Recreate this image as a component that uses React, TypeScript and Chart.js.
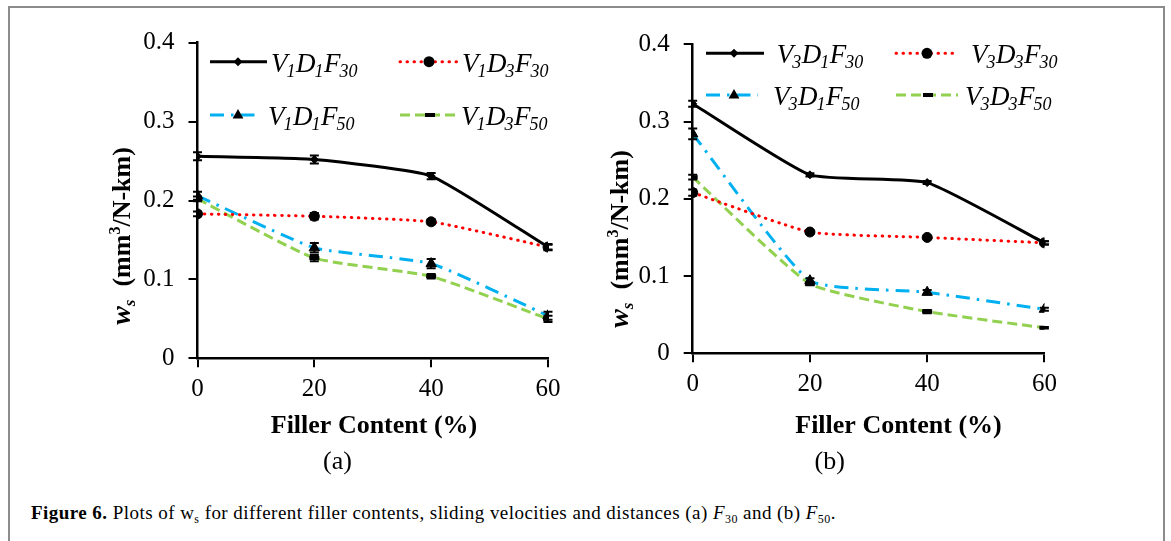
import React, { useEffect, useRef } from "react";
import { Chart, registerables } from "chart.js";

Chart.register(...registerables);
Chart.defaults.font.family = "'Liberation Serif', 'Times New Roman', serif";

// ---------- data ----------
const fillerContent = [0, 20, 40, 60];
const xTickStep = 20;
const yTickStep = 0.1;
const yMin = 0;
const yMax = 0.4;

// Panel (a) — F30 series, V1
const aV1D1F30 = [0.256, 0.252, 0.231, 0.141];
const aV1D3F30 = [0.183, 0.18, 0.173, 0.141];
const aV1D1F50 = [0.206, 0.14, 0.12, 0.054];
const aV1D3F50 = [0.202, 0.127, 0.104, 0.05];
const aErrV1D1F30 = [0.005, 0.005, 0.004, 0.003];
const aErrV1D3F30 = [0.003, 0.004, 0.003, 0.004];
const aErrV1D1F50 = [0.005, 0.006, 0.006, 0.005];
const aErrV1D3F50 = [0.003, 0.004, 0.003, 0.004];
const aLabels = [
  ["V", "1", "D", "1", "F", "30"],
  ["V", "1", "D", "3", "F", "30"],
  ["V", "1", "D", "1", "F", "50"],
  ["V", "1", "D", "3", "F", "50"],
];

// Panel (b) — V3
const bV3D1F30 = [0.323, 0.231, 0.221, 0.143];
const bV3D3F30 = [0.208, 0.157, 0.15, 0.143];
const bV3D1F50 = [0.284, 0.094, 0.079, 0.057];
const bV3D3F50 = [0.228, 0.09, 0.054, 0.033];
const bErrV3D1F30 = [0.004, 0.002, 0.002, 0.002];
const bErrV3D3F30 = [0.004, 0.002, 0.002, 0.002];
const bErrV3D1F50 = [0.007, 0.003, 0.003, 0.002];
const bErrV3D3F50 = [0.003, 0.002, 0.002, 0.001];
const bLabels = [
  ["V", "3", "D", "1", "F", "30"],
  ["V", "3", "D", "3", "F", "30"],
  ["V", "3", "D", "1", "F", "50"],
  ["V", "3", "D", "3", "F", "50"],
];

const xTitle = "Filler Content (%)";

// ---------- styles ----------
const SERIF = "'Liberation Serif', 'Times New Roman', serif";
const seriesStyles = [
  { color: "#000000", dash: [] as number[], cap: "butt", marker: "diamond" },
  { color: "#FF0000", dash: [0.5, 6.5], cap: "round", marker: "circle" },
  { color: "#00B0F0", dash: [14, 7, 2.5, 7], cap: "butt", marker: "triangle" },
  { color: "#92D050", dash: [10, 5], cap: "butt", marker: "bar" },
];
const pointStyleMap: Record<string, any> = {
  diamond: "rectRot",
  circle: "circle",
  triangle: "triangle",
  bar: "line",
};
const pointRadiusMap: Record<string, number> = { diamond: 4, circle: 5, triangle: 6, bar: 5 };
const pointBorderMap: Record<string, number> = { diamond: 1, circle: 1, triangle: 1, bar: 4 };

type LegendPos = { l0: number; l1: number; m: number; t: number; y: number };
type Panel = {
  left: number;
  width: number;
  height: number;
  area: { left: number; right: number; top: number; bottom: number };
  series: number[][];
  errors: number[][];
  labels: string[][];
  legend: LegendPos[];
  xTitlePos: [number, number];
  yTitlePos: [number, number];
  tag: string;
  tagPos: [number, number];
};

const panels: Panel[] = [
  {
    left: 0,
    width: 590,
    height: 480,
    area: { left: 197.5, right: 548, top: 42.7, bottom: 358.3 },
    series: [aV1D1F30, aV1D3F30, aV1D1F50, aV1D3F50],
    errors: [aErrV1D1F30, aErrV1D3F30, aErrV1D1F50, aErrV1D3F50],
    labels: aLabels,
    legend: [
      { l0: 210, l1: 267, m: 238, t: 271, y: 61.7 },
      { l0: 400, l1: 459, m: 429, t: 462, y: 61.7 },
      { l0: 210, l1: 260, m: 238, t: 268, y: 115 },
      { l0: 400, l1: 459, m: 430, t: 461, y: 115 },
    ],
    xTitlePos: [374, 426],
    yTitlePos: [120.5, 236],
    tag: "(a)",
    tagPos: [337.5, 462],
  },
  {
    left: 590,
    width: 581,
    height: 480,
    area: { left: 102.7, right: 454.4, top: 44.3, bottom: 353.3 },
    series: [bV3D1F30, bV3D3F30, bV3D1F50, bV3D3F50],
    errors: [bErrV3D1F30, bErrV3D3F30, bErrV3D1F50, bErrV3D3F50],
    labels: bLabels,
    legend: [
      { l0: 116, l1: 174, m: 144, t: 186.7, y: 53.3 },
      { l0: 306, l1: 366, m: 337, t: 381, y: 53.3 },
      { l0: 116, l1: 168, m: 144, t: 183, y: 95 },
      { l0: 306, l1: 368, m: 338, t: 375, y: 95 },
    ],
    xTitlePos: [308.5, 426],
    yTitlePos: [29, 239],
    tag: "(b)",
    tagPos: [239.7, 462],
  },
];

function drawMarker(ctx: CanvasRenderingContext2D, kind: string, x: number, y: number) {
  ctx.save();
  ctx.fillStyle = "#000";
  ctx.strokeStyle = "#000";
  ctx.setLineDash([]);
  ctx.beginPath();
  if (kind === "diamond") {
    const r = 4.5;
    ctx.moveTo(x, y - r);
    ctx.lineTo(x + r, y);
    ctx.lineTo(x, y + r);
    ctx.lineTo(x - r, y);
    ctx.closePath();
    ctx.fill();
  } else if (kind === "circle") {
    ctx.arc(x, y, 5.5, 0, Math.PI * 2);
    ctx.fill();
  } else if (kind === "triangle") {
    const r = 6;
    ctx.moveTo(x, y - r);
    ctx.lineTo(x + r * 0.9, y + r * 0.6);
    ctx.lineTo(x - r * 0.9, y + r * 0.6);
    ctx.closePath();
    ctx.fill();
  } else {
    ctx.fillRect(x - 5, y - 2, 10, 4);
  }
  ctx.restore();
}

function drawTokens(
  ctx: CanvasRenderingContext2D,
  tokens: string[],
  x: number,
  y: number
) {
  let cx = x;
  tokens.forEach((t, i) => {
    const isSub = i % 2 === 1;
    ctx.font = isSub ? `italic 18px ${SERIF}` : `italic 27px ${SERIF}`;
    ctx.fillText(t, cx, isSub ? y + 5 : y);
    cx += ctx.measureText(t).width + (isSub ? 0.5 : -1);
  });
}

function makeOverlayPlugin(panel: Panel) {
  return {
    id: "overlay" + panel.tag,
    afterDatasetsDraw(chart: any) {
      const ctx: CanvasRenderingContext2D = chart.ctx;
      const yScale = chart.scales.y;
      // error bars
      ctx.save();
      ctx.strokeStyle = "#000";
      ctx.lineWidth = 2;
      ctx.setLineDash([]);
      panel.series.forEach((vals, di) => {
        const meta = chart.getDatasetMeta(di);
        vals.forEach((v, i) => {
          const e = panel.errors[di][i];
          const pt = meta.data[i];
          const x = pt.x;
          const yTop = yScale.getPixelForValue(v + e);
          const yBot = yScale.getPixelForValue(v - e);
          ctx.beginPath();
          ctx.moveTo(x, yTop);
          ctx.lineTo(x, yBot);
          ctx.moveTo(x - 4.5, yTop);
          ctx.lineTo(x + 4.5, yTop);
          ctx.moveTo(x - 4.5, yBot);
          ctx.lineTo(x + 4.5, yBot);
          ctx.stroke();
        });
      });
      ctx.restore();
    },
    afterDraw(chart: any) {
      const ctx: CanvasRenderingContext2D = chart.ctx;
      ctx.save();
      ctx.fillStyle = "#000";
      ctx.textBaseline = "alphabetic";
      ctx.textAlign = "left";
      // legend
      panel.legend.forEach((lp, i) => {
        const st = seriesStyles[i];
        ctx.save();
        ctx.strokeStyle = st.color;
        ctx.lineWidth = 3;
        ctx.lineCap = st.cap as CanvasLineCap;
        ctx.setLineDash(st.dash);
        ctx.beginPath();
        ctx.moveTo(lp.l0, lp.y);
        ctx.lineTo(lp.l1, lp.y);
        ctx.stroke();
        ctx.restore();
        drawMarker(ctx, st.marker, lp.m, lp.y);
        ctx.fillStyle = "#000";
        drawTokens(ctx, panel.labels[i], lp.t, lp.y + 10);
      });
      // x title
      ctx.font = `bold 26px ${SERIF}`;
      ctx.textAlign = "center";
      ctx.textBaseline = "middle";
      ctx.fillText(xTitle, panel.xTitlePos[0], panel.xTitlePos[1]);
      // tag
      ctx.font = `26px ${SERIF}`;
      ctx.fillText(panel.tag, panel.tagPos[0], panel.tagPos[1]);
      // y title (rotated)
      ctx.save();
      ctx.translate(panel.yTitlePos[0], panel.yTitlePos[1]);
      ctx.rotate(-Math.PI / 2);
      ctx.textAlign = "left";
      ctx.textBaseline = "alphabetic";
      const parts = [
        { t: "w", f: `italic bold 28px ${SERIF}`, dy: 0 },
        { t: "s", f: `italic bold 17px ${SERIF}`, dy: 5 },
        { t: "  (mm", f: `bold 26px ${SERIF}`, dy: 0 },
        { t: "3", f: `bold 16px ${SERIF}`, dy: -10 },
        { t: "/N-km)", f: `bold 26px ${SERIF}`, dy: 0 },
      ];
      let total = 0;
      parts.forEach((p) => {
        ctx.font = p.f;
        total += ctx.measureText(p.t).width;
      });
      let cx = -total / 2;
      parts.forEach((p) => {
        ctx.font = p.f;
        ctx.fillText(p.t, cx, 9 + p.dy);
        cx += ctx.measureText(p.t).width;
      });
      ctx.restore();
      ctx.restore();
    },
  };
}

function PanelChart({ panel }: { panel: Panel }) {
  const ref = useRef<HTMLCanvasElement | null>(null);
  useEffect(() => {
    if (!ref.current) return;
    const a = panel.area;
    const datasets = panel.series.map((vals, i) => {
      const st = seriesStyles[i];
      return {
        label: panel.labels[i].join(""),
        data: fillerContent.map((x, j) => ({ x, y: vals[j] })),
        borderColor: st.color,
        borderWidth: 3,
        borderDash: st.dash,
        borderCapStyle: st.cap,
        tension: 0.15,
        fill: false,
        pointStyle: pointStyleMap[st.marker],
        pointRadius: pointRadiusMap[st.marker],
        pointBorderWidth: pointBorderMap[st.marker],
        pointBackgroundColor: "#000",
        pointBorderColor: "#000",
      };
    });
    const chart = new Chart(ref.current, {
      type: "line",
      data: { datasets: datasets as any },
      options: {
        animation: false,
        responsive: false,
        maintainAspectRatio: false,
        devicePixelRatio: 1,
        layout: {
          padding: { left: 0, top: a.top, right: panel.width - a.right, bottom: 0 },
        },
        plugins: { legend: { display: false }, tooltip: { enabled: false } },
        scales: {
          x: {
            type: "linear",
            min: fillerContent[0],
            max: fillerContent[fillerContent.length - 1],
            ticks: {
              stepSize: xTickStep,
              color: "#000",
              padding: 7,
              font: { family: SERIF, size: 25 },
            },
            grid: {
              display: true,
              drawOnChartArea: false,
              drawTicks: true,
              tickLength: 9,
              lineWidth: 2,
              color: "#000",
            },
            border: { display: true, color: "#000", width: 2.5 },
            afterFit: (s: any) => {
              s.height = panel.height - a.bottom;
            },
          },
          y: {
            type: "linear",
            min: yMin,
            max: yMax,
            ticks: {
              stepSize: yTickStep,
              color: "#000",
              padding: 14,
              font: { family: SERIF, size: 25 },
              callback: (v: any) => String(Number(Number(v).toFixed(1))),
            },
            grid: {
              display: true,
              drawOnChartArea: false,
              drawTicks: true,
              tickLength: 9,
              lineWidth: 2,
              color: "#000",
            },
            border: { display: true, color: "#000", width: 2.5 },
            afterFit: (s: any) => {
              s.width = a.left;
            },
          },
        },
      } as any,
      plugins: [makeOverlayPlugin(panel)],
    });
    return () => chart.destroy();
  }, [panel]);
  return (
    <canvas
      ref={ref}
      width={panel.width}
      height={panel.height}
      style={{
        position: "absolute",
        left: panel.left,
        top: 0,
        width: panel.width,
        height: panel.height,
      }}
    />
  );
}

export default function App() {
  const subStyle: React.CSSProperties = {
    fontSize: 12,
    verticalAlign: "baseline",
    position: "relative",
    top: 4,
  };
  return (
    <div
      style={{
        position: "absolute",
        left: 0,
        top: 0,
        width: 1171,
        height: 541,
        overflow: "hidden",
        background: "#fff",
      }}
    >
      <div
        style={{
          position: "absolute",
          left: 8,
          top: 6,
          width: 1153,
          height: 600,
          border: "2px solid #8c8c8c",
        }}
      />
      {panels.map((p) => (
        <PanelChart key={p.tag} panel={p} />
      ))}
      <div
        style={{
          position: "absolute",
          left: 31,
          top: 502,
          fontFamily: SERIF,
          fontSize: 19,
          letterSpacing: "0.45px",
          lineHeight: "22px",
          whiteSpace: "nowrap",
          color: "#000",
        }}
      >
        <b>Figure 6.</b> Plots of w<span style={subStyle}>s</span> for different filler
        contents, sliding velocities and distances (a) <i>F</i>
        <span style={subStyle}>30</span> and (b) <i>F</i>
        <span style={subStyle}>50</span>.
      </div>
    </div>
  );
}
